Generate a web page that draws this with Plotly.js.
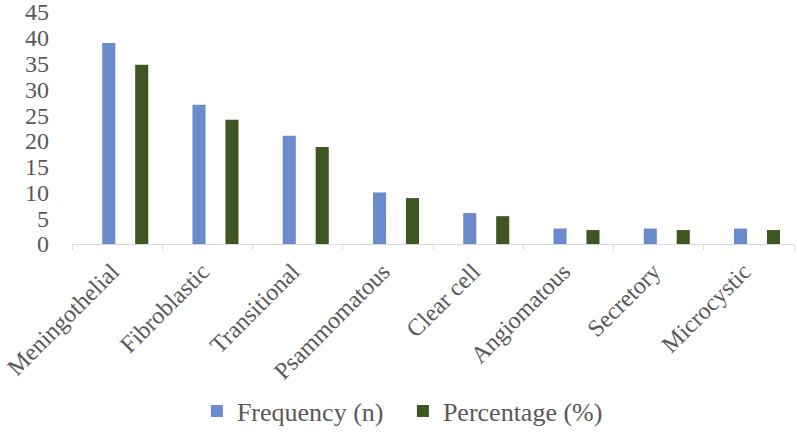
<!DOCTYPE html>
<html>
<head>
<meta charset="utf-8">
<script src="https://cdn.plot.ly/plotly-3.0.1.min.js"></script>
<style>html,body{margin:0;padding:0;background:#fff;}#chart{width:797px;height:433px;}</style>
</head>
<body>
<div id="chart"></div>
<script>
const categories = ["Meningothelial", "Fibroblastic", "Transitional", "Psammomatous", "Clear cell", "Angiomatous", "Secretory", "Microcystic"];
const frequency = [39, 27, 21, 10, 6, 3, 3, 3];
const percentage = [34.8, 24.1, 18.8, 8.9, 5.4, 2.7, 2.7, 2.7];
const yTicks = [0, 5, 10, 15, 20, 25, 30, 35, 40, 45];

const serif = "Liberation Serif";
const traces = [
  {type: "bar", name: "Frequency (n)", x: categories, y: frequency,
   marker: {color: "#6a8bcc"}, width: 0.145, offset: -0.165, hoverinfo: "none"},
  {type: "bar", name: "Percentage (%)", x: categories, y: percentage,
   marker: {color: "#3d5622"}, width: 0.145, offset: 0.2, hoverinfo: "none"}
];
const layout = {
  width: 797, height: 433,
  margin: {l: 72, r: 3, t: 12, b: 189, autoexpand: false},
  paper_bgcolor: "#fff", plot_bgcolor: "#fff",
  font: {family: serif, color: "#595959", size: 24},
  showlegend: true,
  legend: {orientation: "h", x: 0.173, xanchor: "left", y: -0.72, yanchor: "middle", entrywidth: 161,
           font: {family: serif, size: 26, color: "#595959"}, traceorder: "normal", itemwidth: 30},
  xaxis: {type: "category", range: [-0.5, 7.5], tickangle: -45, tickson: "boundaries", automargin: false,
          ticks: "outside", ticklen: 5, tickcolor: "#d9d9d9", showline: true, linecolor: "#d9d9d9",
          ticklabelshift: -5, ticklabelstandoff: 3,
          linewidth: 1, showgrid: false, tickfont: {family: serif, size: 24, color: "#595959"}, fixedrange: true},
  yaxis: {range: [0, 45.01], tickvals: yTicks, ticktext: yTicks.map(String), showgrid: false, automargin: false,
          zeroline: false, showline: false, ticks: "", ticklabelstandoff: 22, ticklabeloverflow: "allow",
          tickfont: {family: serif, size: 24, color: "#595959"}, fixedrange: true}
};
Plotly.newPlot("chart", traces, layout, {displayModeBar: false, staticPlot: true});
</script>
</body>
</html>
